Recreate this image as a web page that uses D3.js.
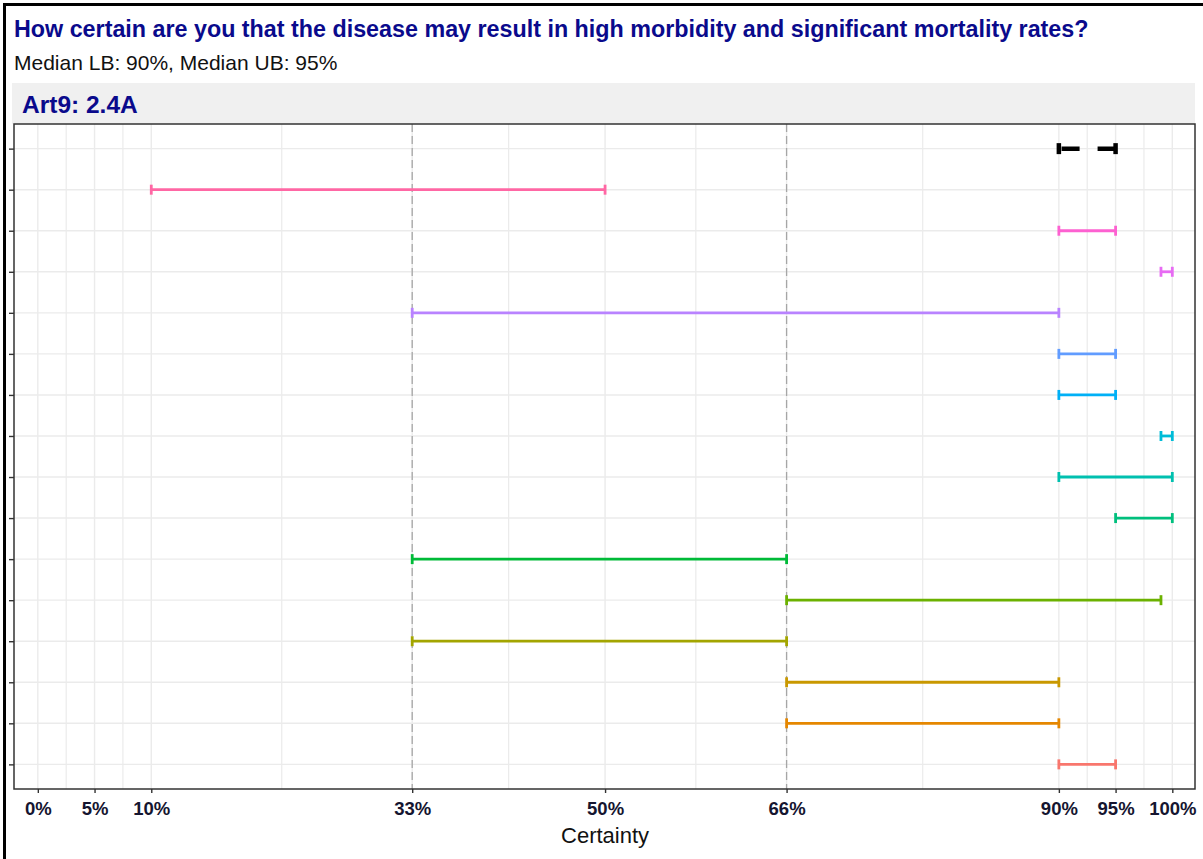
<!DOCTYPE html>
<html>
<head>
<meta charset="utf-8">
<script src="https://cdn.jsdelivr.net/npm/d3@7"></script>
<style>
  body { margin: 0; background: #fff; }
  svg { display: block; font-family: "Liberation Sans", Arial, sans-serif; }
</style>
</head>
<body>
<div id="chart"></div>
<script>
var chart_w = 1203, chart_h = 859;

// one row per respondent, top row is the group median
var respondents = ["Median", "R15", "R14", "R13", "R12", "R11", "R10", "R9", "R8", "R7", "R6", "R5", "R4", "R3", "R2", "R1"];
var lowerBound = [90, 10, 90, 99, 33, 90, 90, 99, 90, 95, 33, 66, 33, 66, 66, 90];
var upperBound = [95, 50, 95, 100, 90, 95, 95, 100, 100, 100, 66, 99, 66, 90, 90, 95];
var barColors = ["#000000", "#FF67A4", "#FD61D1", "#E76BF3", "#B983FF", "#619CFF", "#00B0F6", "#00BCD8",
                 "#00C0AF", "#00BF7D", "#00BA38", "#6BB100", "#A3A500", "#C99800", "#E58700", "#F8766D"];
var tickValues = [0, 5, 10, 33, 50, 66, 90, 95, 100];
var minorValues = [2.5, 7.5, 21.5, 41.5, 58, 78, 92.5, 97.5];
var refLines = [33, 66];

var data = respondents.map(function(r, i) {
  return { id: r, lo: lowerBound[i], hi: upperBound[i], color: barColors[i], median: i === 0 };
});

var panel = { left: 14, right: 1195, top: 124, bottom: 789 };

var svg = d3.select("#chart").append("svg")
    .attr("width", chart_w).attr("height", chart_h);

// outer frame (top + left only)
svg.append("line").attr("x1", 4.5).attr("x2", 4.5).attr("y1", 3).attr("y2", chart_h).attr("stroke", "#000").attr("stroke-width", 3);
svg.append("line").attr("x1", 3).attr("x2", chart_w).attr("y1", 4.5).attr("y2", 4.5).attr("stroke", "#000").attr("stroke-width", 3);

// titles
svg.append("text").attr("x", 14).attr("y", 37)
    .attr("font-size", "23.3px").attr("font-weight", "bold").attr("fill", "#0a0a8c")
    .text("How certain are you that the disease may result in high morbidity and significant mortality rates?");
svg.append("text").attr("x", 14).attr("y", 70)
    .attr("font-size", "21px").attr("fill", "#111")
    .text("Median LB: 90%, Median UB: 95%");

// facet strip
svg.append("rect").attr("x", 12).attr("y", 83).attr("width", panel.right - 12).attr("height", panel.top - 83)
    .attr("fill", "#f0f0f0");
svg.append("text").attr("x", 22).attr("y", 113)
    .attr("font-size", "24.5px").attr("font-weight", "bold").attr("fill", "#0a0a8c")
    .text("Art9: 2.4A");

var x = d3.scaleLinear()
    .domain([-2.1, 102])
    .range([panel.left, panel.right]);

var y = d3.scalePoint()
    .domain(respondents)
    .range([panel.top, panel.bottom])
    .padding(0.6);

var g = svg.append("g");

// grid
g.selectAll(".minor").data(minorValues).enter().append("line")
    .attr("x1", function(d) { return x(d); }).attr("x2", function(d) { return x(d); })
    .attr("y1", panel.top).attr("y2", panel.bottom)
    .attr("stroke", "#ebebeb").attr("stroke-width", 1.2);
g.selectAll(".major").data(tickValues).enter().append("line")
    .attr("x1", function(d) { return x(d); }).attr("x2", function(d) { return x(d); })
    .attr("y1", panel.top).attr("y2", panel.bottom)
    .attr("stroke", "#ebebeb").attr("stroke-width", 1.4);
g.selectAll(".hgrid").data(respondents).enter().append("line")
    .attr("x1", panel.left).attr("x2", panel.right)
    .attr("y1", function(d) { return y(d); }).attr("y2", function(d) { return y(d); })
    .attr("stroke", "#ebebeb").attr("stroke-width", 1.4);

// reference lines at 33% / 66%
g.selectAll(".ref").data(refLines).enter().append("line")
    .attr("x1", function(d) { return x(d); }).attr("x2", function(d) { return x(d); })
    .attr("y1", panel.top).attr("y2", panel.bottom)
    .attr("stroke", "#a6a6a6").attr("stroke-width", 1.3).attr("stroke-dasharray", "8,4");

// error bars
var bars = g.selectAll(".bar").data(data).enter().append("g")
    .attr("class", "bar")
    .attr("stroke", function(d) { return d.color; })
    .attr("stroke-width", function(d) { return d.median ? 4.5 : 2.8; })
    .attr("fill", "none");

bars.append("path")
    .attr("d", function(d) {
      var yy = y(d.id);
      return "M" + x(d.hi) + "," + yy + "H" + x(d.lo);
    })
    .attr("stroke-dasharray", function(d) { return d.median ? "18,18" : null; });

bars.selectAll(".cap")
    .data(function(d) { return [{ v: d.lo, p: d }, { v: d.hi, p: d }]; })
    .enter().append("line")
    .attr("x1", function(c) { return x(c.v); }).attr("x2", function(c) { return x(c.v); })
    .attr("y1", function(c) { return y(c.p.id) - (c.p.median ? 5.5 : 5); })
    .attr("y2", function(c) { return y(c.p.id) + (c.p.median ? 5.5 : 5); });

// panel border
svg.append("rect").attr("x", panel.left).attr("y", panel.top)
    .attr("width", panel.right - panel.left).attr("height", panel.bottom - panel.top)
    .attr("fill", "none").attr("stroke", "#333").attr("stroke-width", 1.5);

// axes
var xAxis = svg.append("g")
    .attr("transform", "translate(0," + panel.bottom + ")")
    .call(d3.axisBottom(x).tickValues(tickValues).tickSize(4).tickPadding(9)
      .tickFormat(function(d) { return d + "%"; }));
xAxis.select(".domain").remove();
xAxis.selectAll("line").attr("stroke", "#333").attr("stroke-width", 1.4);
xAxis.selectAll("text")
    .attr("font-size", "18.5px").attr("font-weight", "bold").attr("fill", "#151530");

var yAxis = svg.append("g")
    .attr("transform", "translate(" + panel.left + ",0)")
    .call(d3.axisLeft(y).tickSize(5).tickFormat(""));
yAxis.select(".domain").remove();
yAxis.selectAll("line").attr("stroke", "#333").attr("stroke-width", 1.4);

svg.append("text")
    .attr("x", (x(0) + x(100)) / 2).attr("y", 843)
    .attr("text-anchor", "middle").attr("font-size", "22px").attr("fill", "#111")
    .text("Certainty");
</script>
</body>
</html>
